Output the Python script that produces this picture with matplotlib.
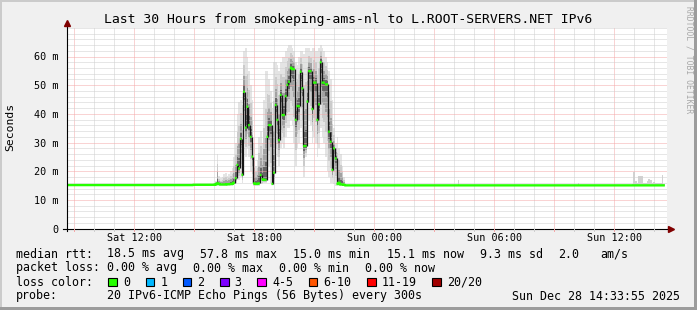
import matplotlib
matplotlib.use("Agg")
import matplotlib.pyplot as plt
import matplotlib.transforms as mtransforms
from matplotlib.patches import Rectangle
import numpy as np

plt.rcParams['font.family'] = ['DejaVu Sans Mono']

W, H = 697, 310

# ---- data ---------------------------------------------------------------
# time in hours since Sat 00:00, one value per 5 minute step (30 h window)
t_start = 8.61
step = 5 / 60
n_steps = 360

# median rtt (ms)
median_quiet_start = [15.2] * 76 + [15.3] * 12
median_busy = [15.3, 15.4, 15.8, 15.6, 15.4, 15.4, 15.4, 15.4, 15.5, 15.5, 15.6, 15.6,
               16.0, 17.6, 22.2, 21.0, 31.3, 18.8,
               47.7, 35.2, 42.5, 36.1, 32.0, 25.1,
               15.8, 15.6, 15.6, 15.8,
               18.7, 17.2, 17.0, 17.0,
               32.0, 36.1, 36.1, 15.6, 19.5,
               43.1, 37.9, 30.9, 46.6, 39.6, 39.6,
               46.2, 50.1, 51.2, 56.1, 55.6, 55.6,
               37.9, 42.7, 42.7, 54.7, 48.9,
               28.8, 28.8, 44.3, 54.9, 54.9,
               41.7, 50.9, 50.9, 37.9, 43.3,
               58.0, 50.9, 50.9, 50.3, 50.3,
               33.8, 30.3, 20.5, 28.0, 24.5,
               15.6, 16.0, 15.4, 15.4, 15.3]
median_quiet_end = [15.1] * 192
busy_first_step = 88

# smoke (spread of the 20 pings) around the busy period (ms)
smoke_top_busy = [16.0, 16.5, 26.0, 18.5, 17.5, 18.0, 19.0, 19.5, 18.5, 19.0, 20.0, 21.0,
                  25, 30, 40, 44, 45, 43,
                  62, 63, 60, 55, 50, 45,
                  30, 22, 24, 32,
                  34, 30, 45, 55,
                  55, 52, 48, 42, 58,
                  58, 57, 55, 58, 60, 60,
                  62, 63, 64, 64, 63, 62,
                  58, 57, 60, 62, 62,
                  61, 63, 63, 63, 62,
                  63, 63, 62, 62, 63,
                  64, 63, 62, 60, 58,
                  55, 52, 45, 35, 30,
                  32, 28, 26, 22, 18]
smoke_bottom_busy = [15.0] * 12 + [
                  15.5, 16, 17, 17, 18, 16,
                  30, 25, 28, 25, 20, 16,
                  15, 15, 15, 15,
                  15.5, 15.5, 16, 16,
                  20, 22, 16, 15.5, 16,
                  28, 25, 22, 28, 30, 28,
                  32, 35, 35, 38, 36, 30,
                  22, 28, 30, 35, 32,
                  18, 25, 30, 38, 36,
                  30, 32, 30, 25, 28,
                  35, 32, 30, 25, 20,
                  18, 16, 16, 15.5, 15,
                  15, 15, 15, 15, 15]

tail_first_step = 339
tail_smoke_top = [15.5, 19.7, 16.5, 16.0, 18.3, 18.3, 18.3, 16.0, 15.8, 16.5,
                  17.2, 16.8, 16.0, 16.4, 16.0, 15.8, 15.8, 16.0, 18.6, 15.5]
blip_steps = [235, 307]
blip_top = [16.8, 15.8]

tick_hours = [12, 18, 24, 30, 36]
tick_labels = ["Sat 12:00", "Sat 18:00", "Sun 00:00", "Sun 06:00", "Sun 12:00"]
y_ticks = [0, 10, 20, 30, 40, 50, 60]

rtt_items = ["18.5 ms avg", "57.8 ms max", "15.0 ms min", "15.1 ms now", "9.3 ms sd", "2.0", "am/s"]
loss_items = ["0.00 % avg", "0.00 % max", "0.00 % min", "0.00 % now"]
loss_labels = ["0", "1", "2", "3", "4-5", "6-10", "11-19", "20/20"]
loss_colors = ["#26ff00", "#00b8ff", "#0059ff", "#7e00ff", "#ff00ff", "#ff5500", "#ff0000", "#a10000"]
probe_text = "20 IPv6-ICMP Echo Pings (56 Bytes) every 300s"
stamp = "Sun Dec 28 14:33:55 2025"
title = "Last 30 Hours from smokeping-ams-nl to L.ROOT-SERVERS.NET IPv6"

# ---- figure ---------------------------------------------------------------
fig = plt.figure(figsize=(W / 100, H / 100), dpi=100, facecolor="#f0f0f0")
# pixel coordinates, origin top left
px = mtransforms.Affine2D().scale(1 / W, -1 / H).translate(0, 1) + fig.transFigure

# frame shading
fig.add_artist(Rectangle((0, 0), W, 2, transform=px, color="#cbcbcb", lw=0))
fig.add_artist(Rectangle((0, 0), 2, H, transform=px, color="#cbcbcb", lw=0))
fig.add_artist(Rectangle((0, H - 3), W, 3, transform=px, color="#9c9c9c", lw=0))
fig.add_artist(Rectangle((W - 3, 0), 3, H, transform=px, color="#9c9c9c", lw=0))

ax_left, ax_top, ax_w, ax_h = 66.5, 27.8, 600, 200.9
ax = fig.add_axes([ax_left / W, 1 - (ax_top + ax_h) / H, ax_w / W, ax_h / H])
ax.set_facecolor("white")
ax.set_xlim(t_start, t_start + n_steps * step)
ax.set_ylim(0, 70)
for s in ax.spines.values():
    s.set_visible(False)

# grid
dot = (0, (1, 1))
for h in range(9, 39):
    c = "#f4a8a8" if h % 3 == 0 else "#cfcfcf"
    ax.axvline(h, color=c, lw=0.72, ls=dot, zorder=3)
for v in range(2, 71, 2):
    c = "#f4a8a8" if (v % 10 == 0 and v < 70) else "#cfcfcf"
    ax.axhline(v, color=c, lw=0.72, ls=dot, zorder=3)

# smoke in the busy period
med_b = np.array(median_busy)
top_b = np.array(smoke_top_busy, dtype=float)
bot_b = np.array(smoke_bottom_busy, dtype=float)
tb = t_start + (busy_first_step + np.arange(len(med_b) + 1)) * step
for f, c in zip([1.0, 0.65, 0.38, 0.16], ["#e4e4e4", "#cbcbcb", "#a2a2a2", "#666666"]):
    lo = med_b - f * (med_b - bot_b)
    hi = med_b + f * (top_b - med_b)
    ax.fill_between(tb, np.append(lo, lo[-1]), np.append(hi, hi[-1]), step="post",
                    color=c, lw=0, zorder=2)

# small smoke at the end and a couple of blips
tail = np.array(tail_smoke_top)
tt = t_start + (tail_first_step + np.arange(len(tail) + 1)) * step
ax.fill_between(tt, 15.0, np.append(tail, tail[-1]), step="post", color="#d2d2d2", lw=0, zorder=2)
ax.bar(t_start + np.array(blip_steps) * step, np.array(blip_top) - 15.0, bottom=15.0,
       width=step * 0.6, align="edge", color="#d0d0d0", lw=0, zorder=2)

# median line: dark risers where the median jumps, green flats per step
med = np.array(median_quiet_start + median_busy + median_quiet_end)
t = t_start + np.arange(len(med)) * step
jump = np.abs(np.diff(med)) > 0.6
ax.vlines(t[1:][jump], med[:-1][jump], med[1:][jump], colors="#151515", lw=0.9,
          zorder=4, capstyle="butt")
gx, gy = [], []
for k in range(len(med)):
    gx += [t[k], t[k] + step]
    gy += [med[k], med[k]]
    if k < len(med) - 1 and jump[k]:
        gx.append(np.nan)
        gy.append(np.nan)
ax.plot(gx, gy, color=loss_colors[0], lw=1.7, solid_capstyle="butt", zorder=5, snap=False)

# ticks
ax.set_xticks(tick_hours, tick_labels)
ax.set_yticks(y_ticks, ["0" if v == 0 else f"{v} m" for v in y_ticks])
ax.tick_params(axis="x", length=0, pad=3.2, labelsize=7.3)
ax.tick_params(axis="y", length=0, pad=5.5, labelsize=7.3)

# axis lines with arrows
ax.plot([-4 / ax_w, 1 + 2 / ax_w], [0, 0], transform=ax.transAxes, color="black", lw=0.8, clip_on=False, zorder=6)
ax.plot([0, 0], [-2.5 / ax_h, 1 + 3 / ax_h], transform=ax.transAxes, color="black", lw=0.8, clip_on=False, zorder=6)
ax.plot([1 + 4.5 / ax_w], [0], marker=">", ms=4.2, color="#800000", transform=ax.transAxes, clip_on=False, zorder=7)
ax.plot([0], [1 + 4.5 / ax_h], marker="^", ms=4.2, color="#800000", transform=ax.transAxes, clip_on=False, zorder=7)
for h in range(9, 39):
    c = "#f4a8a8" if h % 3 == 0 else "#cfcfcf"
    ax.plot([h, h], [0, -2.5 * 70 / ax_h], color=c, lw=0.72, clip_on=False, zorder=6)

# title, labels, watermark
fig.text(348.5, 19, title, transform=px, ha="center", va="center", fontsize=9.45)
fig.text(10, 127, "Seconds", transform=px, rotation=90, ha="center", va="center", fontsize=8.2)
fig.text(689, 6, "RRDTOOL / TOBI OETIKER", transform=px, rotation=270, ha="center", va="top",
         fontsize=5.8, color="#a8a8a8")

# legend
fs = 8.4
rows = [254, 268, 282, 296]
fig.text(16, rows[0], "median rtt:", transform=px, va="center", fontsize=fs)
for s, x in zip(rtt_items, [107.3, 200, 293.3, 386.7, 480, 558.3, 600]):
    fig.text(x, rows[0], s, transform=px, va="center", fontsize=fs)
fig.text(16, rows[1], "packet loss:", transform=px, va="center", fontsize=fs)
for s, x in zip(loss_items, [107.3, 193.3, 279.3, 365]):
    fig.text(x, rows[1], s, transform=px, va="center", fontsize=fs)
fig.text(16, rows[2], "loss color:", transform=px, va="center", fontsize=fs)
x = 108.3
for lab, col in zip(loss_labels, loss_colors):
    fig.add_artist(Rectangle((x, rows[2] - 4.5), 8.5, 8.5, transform=px, facecolor=col,
                             edgecolor="black", lw=0.8))
    fig.text(x + 14.7, rows[2], lab, transform=px, va="center", fontsize=fs)
    x = x + 14.7 + len(lab) * 7.05 + 15.5
fig.text(16, rows[3], "probe:", transform=px, va="center", fontsize=fs)
fig.text(107.3, rows[3], probe_text, transform=px, va="center", fontsize=fs)
fig.text(680, rows[3], stamp, transform=px, ha="right", va="center", fontsize=fs)

fig.savefig("out.png", dpi=100, facecolor=fig.get_facecolor())
